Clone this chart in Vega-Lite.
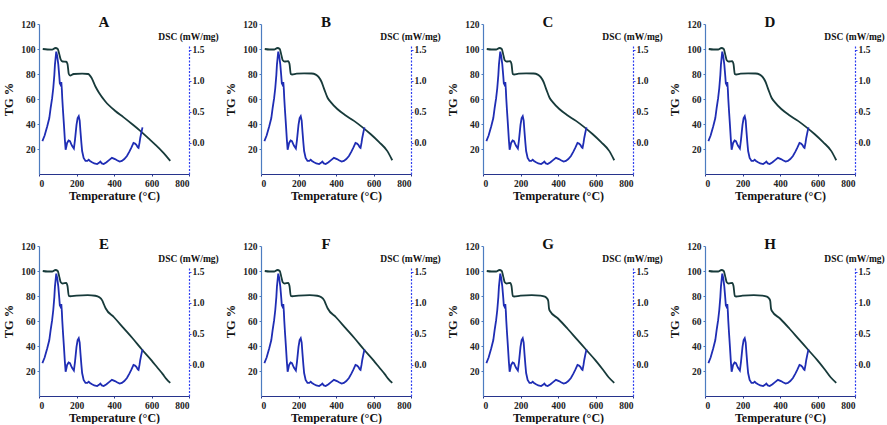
{
  "$schema": "https://vega.github.io/schema/vega-lite/v6.json",
  "background": "white",
  "padding": {"left": 2, "top": 15, "right": 0, "bottom": 0},
  "datasets": {
    "tg": [
      {"profile": "a", "t": 20, "tg": 100}, {"profile": "a", "t": 45, "tg": 99.6}, {"profile": "a", "t": 70, "tg": 99.5},
      {"profile": "a", "t": 88, "tg": 100.8}, {"profile": "a", "t": 100, "tg": 100}, {"profile": "a", "t": 108, "tg": 96},
      {"profile": "a", "t": 116, "tg": 91.5}, {"profile": "a", "t": 126, "tg": 90}, {"profile": "a", "t": 145, "tg": 89.8},
      {"profile": "a", "t": 152, "tg": 88}, {"profile": "a", "t": 159, "tg": 80}, {"profile": "a", "t": 166, "tg": 78.8},
      {"profile": "a", "t": 185, "tg": 80}, {"profile": "a", "t": 230, "tg": 80.3}, {"profile": "a", "t": 262, "tg": 80},
      {"profile": "a", "t": 280, "tg": 77}, {"profile": "a", "t": 301, "tg": 70}, {"profile": "a", "t": 320, "tg": 65},
      {"profile": "a", "t": 354, "tg": 58}, {"profile": "a", "t": 407, "tg": 50.4}, {"profile": "a", "t": 450, "tg": 45.5},
      {"profile": "a", "t": 496, "tg": 40}, {"profile": "a", "t": 540, "tg": 34.5}, {"profile": "a", "t": 584, "tg": 28.5},
      {"profile": "a", "t": 620, "tg": 23.5}, {"profile": "a", "t": 660, "tg": 17.5}, {"profile": "a", "t": 700, "tg": 10.5},

      {"profile": "b", "t": 20, "tg": 100}, {"profile": "b", "t": 45, "tg": 99.6}, {"profile": "b", "t": 70, "tg": 99.6},
      {"profile": "b", "t": 88, "tg": 100.8}, {"profile": "b", "t": 100, "tg": 100}, {"profile": "b", "t": 108, "tg": 95.5},
      {"profile": "b", "t": 116, "tg": 91}, {"profile": "b", "t": 126, "tg": 90}, {"profile": "b", "t": 145, "tg": 90.3},
      {"profile": "b", "t": 152, "tg": 88}, {"profile": "b", "t": 159, "tg": 80}, {"profile": "b", "t": 166, "tg": 79.6},
      {"profile": "b", "t": 190, "tg": 80.3}, {"profile": "b", "t": 230, "tg": 80.5}, {"profile": "b", "t": 270, "tg": 80.4},
      {"profile": "b", "t": 292, "tg": 79.5}, {"profile": "b", "t": 308, "tg": 77.5}, {"profile": "b", "t": 322, "tg": 74},
      {"profile": "b", "t": 338, "tg": 67.5}, {"profile": "b", "t": 355, "tg": 61}, {"profile": "b", "t": 372, "tg": 57.5},
      {"profile": "b", "t": 407, "tg": 52}, {"profile": "b", "t": 450, "tg": 47}, {"profile": "b", "t": 496, "tg": 42.5},
      {"profile": "b", "t": 540, "tg": 37.5}, {"profile": "b", "t": 584, "tg": 32}, {"profile": "b", "t": 630, "tg": 25.5},
      {"profile": "b", "t": 673, "tg": 18.5}, {"profile": "b", "t": 700, "tg": 11},

      {"profile": "e", "t": 20, "tg": 100}, {"profile": "e", "t": 45, "tg": 99.6}, {"profile": "e", "t": 70, "tg": 99.6},
      {"profile": "e", "t": 88, "tg": 100.8}, {"profile": "e", "t": 100, "tg": 100}, {"profile": "e", "t": 108, "tg": 95.5},
      {"profile": "e", "t": 116, "tg": 91}, {"profile": "e", "t": 126, "tg": 90}, {"profile": "e", "t": 145, "tg": 90.5},
      {"profile": "e", "t": 152, "tg": 88}, {"profile": "e", "t": 159, "tg": 80}, {"profile": "e", "t": 166, "tg": 79.8},
      {"profile": "e", "t": 200, "tg": 80.3}, {"profile": "e", "t": 260, "tg": 80.7}, {"profile": "e", "t": 300, "tg": 80.2},
      {"profile": "e", "t": 322, "tg": 79}, {"profile": "e", "t": 337, "tg": 76.5}, {"profile": "e", "t": 347, "tg": 73},
      {"profile": "e", "t": 356, "tg": 70}, {"profile": "e", "t": 400, "tg": 63}, {"profile": "e", "t": 450, "tg": 54.5},
      {"profile": "e", "t": 500, "tg": 46}, {"profile": "e", "t": 550, "tg": 37}, {"profile": "e", "t": 600, "tg": 28.5},
      {"profile": "e", "t": 630, "tg": 23}, {"profile": "e", "t": 660, "tg": 17.5}, {"profile": "e", "t": 680, "tg": 13.5},
      {"profile": "e", "t": 700, "tg": 10.5},

      {"profile": "g", "t": 20, "tg": 100}, {"profile": "g", "t": 45, "tg": 99.6}, {"profile": "g", "t": 70, "tg": 99.6},
      {"profile": "g", "t": 88, "tg": 100.8}, {"profile": "g", "t": 100, "tg": 100}, {"profile": "g", "t": 108, "tg": 95.5},
      {"profile": "g", "t": 116, "tg": 91}, {"profile": "g", "t": 126, "tg": 90}, {"profile": "g", "t": 145, "tg": 90.5},
      {"profile": "g", "t": 152, "tg": 88}, {"profile": "g", "t": 159, "tg": 80}, {"profile": "g", "t": 166, "tg": 79.6},
      {"profile": "g", "t": 200, "tg": 80.3}, {"profile": "g", "t": 260, "tg": 80.7}, {"profile": "g", "t": 305, "tg": 80.3},
      {"profile": "g", "t": 330, "tg": 79.5}, {"profile": "g", "t": 342, "tg": 78}, {"profile": "g", "t": 348, "tg": 76},
      {"profile": "g", "t": 352, "tg": 70}, {"profile": "g", "t": 357, "tg": 68}, {"profile": "g", "t": 400, "tg": 62},
      {"profile": "g", "t": 450, "tg": 54}, {"profile": "g", "t": 500, "tg": 45.5}, {"profile": "g", "t": 550, "tg": 37},
      {"profile": "g", "t": 600, "tg": 28.5}, {"profile": "g", "t": 640, "tg": 21}, {"profile": "g", "t": 670, "tg": 15},
      {"profile": "g", "t": 700, "tg": 10.5}
    ],
    "dsc": [
      {"t": 18, "dsc": 0.03}, {"t": 30, "dsc": 0.12}, {"t": 44, "dsc": 0.27}, {"t": 55, "dsc": 0.4},
      {"t": 62, "dsc": 0.56}, {"t": 70, "dsc": 0.72}, {"t": 76, "dsc": 0.88}, {"t": 82, "dsc": 1.1},
      {"t": 85, "dsc": 1.26}, {"t": 92, "dsc": 1.47}, {"t": 97, "dsc": 1.4}, {"t": 103, "dsc": 1.26},
      {"t": 108, "dsc": 1.08}, {"t": 111, "dsc": 0.96}, {"t": 116, "dsc": 0.93}, {"t": 119, "dsc": 0.98},
      {"t": 122, "dsc": 0.85}, {"t": 124, "dsc": 0.72}, {"t": 128, "dsc": 0.52}, {"t": 133, "dsc": 0.29},
      {"t": 138, "dsc": 0.05}, {"t": 142, "dsc": -0.11}, {"t": 146, "dsc": -0.06}, {"t": 150, "dsc": 0.0},
      {"t": 158, "dsc": 0.04}, {"t": 165, "dsc": 0.03}, {"t": 172, "dsc": -0.02}, {"t": 177, "dsc": -0.05},
      {"t": 186, "dsc": -0.09}, {"t": 192, "dsc": 0.05}, {"t": 200, "dsc": 0.29}, {"t": 206, "dsc": 0.4},
      {"t": 212, "dsc": 0.43}, {"t": 217, "dsc": 0.36}, {"t": 221, "dsc": 0.19}, {"t": 226, "dsc": 0.0},
      {"t": 230, "dsc": -0.13}, {"t": 238, "dsc": -0.24}, {"t": 248, "dsc": -0.29}, {"t": 258, "dsc": -0.29},
      {"t": 265, "dsc": -0.27}, {"t": 272, "dsc": -0.29}, {"t": 283, "dsc": -0.31}, {"t": 295, "dsc": -0.33},
      {"t": 310, "dsc": -0.34}, {"t": 320, "dsc": -0.32}, {"t": 327, "dsc": -0.3}, {"t": 335, "dsc": -0.33},
      {"t": 345, "dsc": -0.34}, {"t": 360, "dsc": -0.31}, {"t": 372, "dsc": -0.28}, {"t": 389, "dsc": -0.24},
      {"t": 405, "dsc": -0.26}, {"t": 416, "dsc": -0.28}, {"t": 430, "dsc": -0.3}, {"t": 442, "dsc": -0.29},
      {"t": 455, "dsc": -0.26}, {"t": 469, "dsc": -0.21}, {"t": 482, "dsc": -0.14}, {"t": 492, "dsc": -0.08},
      {"t": 504, "dsc": 0.0}, {"t": 512, "dsc": -0.01}, {"t": 519, "dsc": -0.03}, {"t": 527, "dsc": -0.07},
      {"t": 531, "dsc": -0.08}, {"t": 536, "dsc": 0.0}, {"t": 540, "dsc": 0.08}, {"t": 546, "dsc": 0.17},
      {"t": 552, "dsc": 0.25}
    ]
  },
  "columns": 4,
  "bounds": "flush",
  "spacing": {"row": 72, "column": 72},
  "concat": [
    {"title": "A", "resolve": {"scale": {"y": "independent"}}, "layer": [
      {"data": {"name": "tg"}, "transform": [{"filter": "datum.profile === 'a'"}],
       "mark": {"type": "line", "color": "#173a3a", "strokeWidth": 1.8, "interpolate": "monotone"},
       "encoding": {
         "x": {"field": "t", "type": "quantitative", "title": "Temperature (°C)", "scale": {"domain": [0, 800], "nice": false}},
         "y": {"field": "tg", "type": "quantitative", "title": "TG %", "scale": {"domain": [0, 120]}, "axis": {"values": [20, 40, 60, 80, 100, 120]}}}},
      {"data": {"name": "dsc"},
       "mark": {"type": "line", "color": "#1f2db4", "strokeWidth": 1.8},
       "encoding": {
         "x": {"field": "t", "type": "quantitative", "title": "Temperature (°C)", "scale": {"domain": [0, 800], "nice": false}},
         "y": {"field": "dsc", "type": "quantitative", "title": "DSC (mW/mg)", "scale": {"domain": [-0.5, 1.56], "range": [150, 22]}, "axis": {"orient": "right", "values": [0, 0.5, 1, 1.5], "format": ".1f"}}}}
    ]},
    {"title": "B", "resolve": {"scale": {"y": "independent"}}, "layer": [
      {"data": {"name": "tg"}, "transform": [{"filter": "datum.profile === 'b'"}],
       "mark": {"type": "line", "color": "#173a3a", "strokeWidth": 1.8, "interpolate": "monotone"},
       "encoding": {
         "x": {"field": "t", "type": "quantitative", "title": "Temperature (°C)", "scale": {"domain": [0, 800], "nice": false}},
         "y": {"field": "tg", "type": "quantitative", "title": "TG %", "scale": {"domain": [0, 120]}, "axis": {"values": [20, 40, 60, 80, 100, 120]}}}},
      {"data": {"name": "dsc"},
       "mark": {"type": "line", "color": "#1f2db4", "strokeWidth": 1.8},
       "encoding": {
         "x": {"field": "t", "type": "quantitative", "title": "Temperature (°C)", "scale": {"domain": [0, 800], "nice": false}},
         "y": {"field": "dsc", "type": "quantitative", "title": "DSC (mW/mg)", "scale": {"domain": [-0.5, 1.56], "range": [150, 22]}, "axis": {"orient": "right", "values": [0, 0.5, 1, 1.5], "format": ".1f"}}}}
    ]},
    {"title": "C", "resolve": {"scale": {"y": "independent"}}, "layer": [
      {"data": {"name": "tg"}, "transform": [{"filter": "datum.profile === 'b'"}],
       "mark": {"type": "line", "color": "#173a3a", "strokeWidth": 1.8, "interpolate": "monotone"},
       "encoding": {
         "x": {"field": "t", "type": "quantitative", "title": "Temperature (°C)", "scale": {"domain": [0, 800], "nice": false}},
         "y": {"field": "tg", "type": "quantitative", "title": "TG %", "scale": {"domain": [0, 120]}, "axis": {"values": [20, 40, 60, 80, 100, 120]}}}},
      {"data": {"name": "dsc"},
       "mark": {"type": "line", "color": "#1f2db4", "strokeWidth": 1.8},
       "encoding": {
         "x": {"field": "t", "type": "quantitative", "title": "Temperature (°C)", "scale": {"domain": [0, 800], "nice": false}},
         "y": {"field": "dsc", "type": "quantitative", "title": "DSC (mW/mg)", "scale": {"domain": [-0.5, 1.56], "range": [150, 22]}, "axis": {"orient": "right", "values": [0, 0.5, 1, 1.5], "format": ".1f"}}}}
    ]},
    {"title": "D", "resolve": {"scale": {"y": "independent"}}, "layer": [
      {"data": {"name": "tg"}, "transform": [{"filter": "datum.profile === 'b'"}],
       "mark": {"type": "line", "color": "#173a3a", "strokeWidth": 1.8, "interpolate": "monotone"},
       "encoding": {
         "x": {"field": "t", "type": "quantitative", "title": "Temperature (°C)", "scale": {"domain": [0, 800], "nice": false}},
         "y": {"field": "tg", "type": "quantitative", "title": "TG %", "scale": {"domain": [0, 120]}, "axis": {"values": [20, 40, 60, 80, 100, 120]}}}},
      {"data": {"name": "dsc"},
       "mark": {"type": "line", "color": "#1f2db4", "strokeWidth": 1.8},
       "encoding": {
         "x": {"field": "t", "type": "quantitative", "title": "Temperature (°C)", "scale": {"domain": [0, 800], "nice": false}},
         "y": {"field": "dsc", "type": "quantitative", "title": "DSC (mW/mg)", "scale": {"domain": [-0.5, 1.56], "range": [150, 22]}, "axis": {"orient": "right", "values": [0, 0.5, 1, 1.5], "format": ".1f"}}}}
    ]},
    {"title": "E", "resolve": {"scale": {"y": "independent"}}, "layer": [
      {"data": {"name": "tg"}, "transform": [{"filter": "datum.profile === 'e'"}],
       "mark": {"type": "line", "color": "#173a3a", "strokeWidth": 1.8, "interpolate": "monotone"},
       "encoding": {
         "x": {"field": "t", "type": "quantitative", "title": "Temperature (°C)", "scale": {"domain": [0, 800], "nice": false}},
         "y": {"field": "tg", "type": "quantitative", "title": "TG %", "scale": {"domain": [0, 120]}, "axis": {"values": [20, 40, 60, 80, 100, 120]}}}},
      {"data": {"name": "dsc"},
       "mark": {"type": "line", "color": "#1f2db4", "strokeWidth": 1.8},
       "encoding": {
         "x": {"field": "t", "type": "quantitative", "title": "Temperature (°C)", "scale": {"domain": [0, 800], "nice": false}},
         "y": {"field": "dsc", "type": "quantitative", "title": "DSC (mW/mg)", "scale": {"domain": [-0.5, 1.56], "range": [150, 22]}, "axis": {"orient": "right", "values": [0, 0.5, 1, 1.5], "format": ".1f"}}}}
    ]},
    {"title": "F", "resolve": {"scale": {"y": "independent"}}, "layer": [
      {"data": {"name": "tg"}, "transform": [{"filter": "datum.profile === 'e'"}],
       "mark": {"type": "line", "color": "#173a3a", "strokeWidth": 1.8, "interpolate": "monotone"},
       "encoding": {
         "x": {"field": "t", "type": "quantitative", "title": "Temperature (°C)", "scale": {"domain": [0, 800], "nice": false}},
         "y": {"field": "tg", "type": "quantitative", "title": "TG %", "scale": {"domain": [0, 120]}, "axis": {"values": [20, 40, 60, 80, 100, 120]}}}},
      {"data": {"name": "dsc"},
       "mark": {"type": "line", "color": "#1f2db4", "strokeWidth": 1.8},
       "encoding": {
         "x": {"field": "t", "type": "quantitative", "title": "Temperature (°C)", "scale": {"domain": [0, 800], "nice": false}},
         "y": {"field": "dsc", "type": "quantitative", "title": "DSC (mW/mg)", "scale": {"domain": [-0.5, 1.56], "range": [150, 22]}, "axis": {"orient": "right", "values": [0, 0.5, 1, 1.5], "format": ".1f"}}}}
    ]},
    {"title": "G", "resolve": {"scale": {"y": "independent"}}, "layer": [
      {"data": {"name": "tg"}, "transform": [{"filter": "datum.profile === 'g'"}],
       "mark": {"type": "line", "color": "#173a3a", "strokeWidth": 1.8, "interpolate": "monotone"},
       "encoding": {
         "x": {"field": "t", "type": "quantitative", "title": "Temperature (°C)", "scale": {"domain": [0, 800], "nice": false}},
         "y": {"field": "tg", "type": "quantitative", "title": "TG %", "scale": {"domain": [0, 120]}, "axis": {"values": [20, 40, 60, 80, 100, 120]}}}},
      {"data": {"name": "dsc"},
       "mark": {"type": "line", "color": "#1f2db4", "strokeWidth": 1.8},
       "encoding": {
         "x": {"field": "t", "type": "quantitative", "title": "Temperature (°C)", "scale": {"domain": [0, 800], "nice": false}},
         "y": {"field": "dsc", "type": "quantitative", "title": "DSC (mW/mg)", "scale": {"domain": [-0.5, 1.56], "range": [150, 22]}, "axis": {"orient": "right", "values": [0, 0.5, 1, 1.5], "format": ".1f"}}}}
    ]},
    {"title": "H", "resolve": {"scale": {"y": "independent"}}, "layer": [
      {"data": {"name": "tg"}, "transform": [{"filter": "datum.profile === 'g'"}],
       "mark": {"type": "line", "color": "#173a3a", "strokeWidth": 1.8, "interpolate": "monotone"},
       "encoding": {
         "x": {"field": "t", "type": "quantitative", "title": "Temperature (°C)", "scale": {"domain": [0, 800], "nice": false}},
         "y": {"field": "tg", "type": "quantitative", "title": "TG %", "scale": {"domain": [0, 120]}, "axis": {"values": [20, 40, 60, 80, 100, 120]}}}},
      {"data": {"name": "dsc"},
       "mark": {"type": "line", "color": "#1f2db4", "strokeWidth": 1.8},
       "encoding": {
         "x": {"field": "t", "type": "quantitative", "title": "Temperature (°C)", "scale": {"domain": [0, 800], "nice": false}},
         "y": {"field": "dsc", "type": "quantitative", "title": "DSC (mW/mg)", "scale": {"domain": [-0.5, 1.56], "range": [150, 22]}, "axis": {"orient": "right", "values": [0, 0.5, 1, 1.5], "format": ".1f"}}}}
    ]}
  ],
  "config": {
    "font": "Liberation Serif",
    "view": {"stroke": null, "continuousWidth": 150, "continuousHeight": 150},
    "title": {"font": "Liberation Serif", "fontWeight": "bold", "fontSize": 15, "color": "#111111", "frame": "group", "anchor": "middle", "dx": -10, "dy": 15},
    "axis": {
      "grid": false,
      "labelFont": "Liberation Serif", "labelFontWeight": "bold", "labelFontSize": 9.5, "labelColor": "#222222",
      "titleFont": "Liberation Serif", "titleFontWeight": "bold", "titleColor": "#111111",
      "tickSize": 2, "labelPadding": 2, "domainWidth": 1.2
    },
    "axisLeft": {"domainColor": "#4d7cc0", "tickColor": "#4d7cc0", "titleFontSize": 12.5, "titlePadding": 5},
    "axisBottom": {"domainColor": "#27348c", "tickColor": "#27348c", "titleFontSize": 12, "titlePadding": 3, "tickCount": 4},
    "axisRight": {
      "domainColor": "#3040f0", "domainDash": [2, 1.5], "tickColor": "#3040f0", "labelPadding": 1,
      "titleFontSize": 9.5, "titleAngle": 0, "titleX": -1, "titleY": 12, "titleAlign": "center", "titleBaseline": "middle"
    }
  }
}
